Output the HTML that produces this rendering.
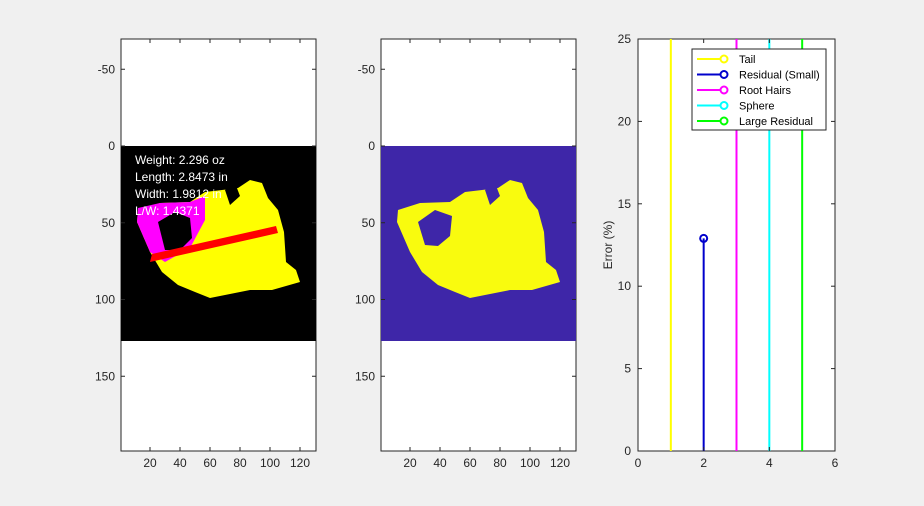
<!DOCTYPE html>
<html><head><meta charset="utf-8"><style>
body{margin:0;background:#f0f0f0;}
svg{display:block;font-family:"Liberation Sans",Arial,sans-serif;}
</style></head><body>
<svg id="fig" width="924" height="506">
<rect width="924" height="506" fill="#f0f0f0"/>
<!-- Axes 1 -->
<g>
<rect x="121" y="39" width="195" height="412" fill="#fff" stroke="#262626" stroke-width="1"/>
<rect x="121" y="146" width="195" height="195" fill="#000"/>
<g id="blob1"></g>
<polygon points="150,262 152,254 276,226 278,233" fill="#ff0000"/>
<g fill="#fff" font-size="12">
<text x="135" y="164">Weight: 2.296 oz</text>
<text x="135" y="181">Length: 2.8473 in</text>
<text x="135" y="198">Width: 1.9812 in</text>
<text x="135" y="215">L/W: 1.4371</text>
</g>
<g id="ticks1"></g>
</g>
<!-- Axes 2 -->
<g>
<rect x="381" y="39" width="195" height="412" fill="#fff" stroke="#262626" stroke-width="1"/>
<rect x="381" y="146" width="195" height="195" fill="#3e26a8"/>
<g id="blob2"></g>
<g id="ticks2"></g>
</g>
<!-- Axes 3 -->
<g>
<rect x="638" y="39" width="197" height="412" fill="#fff" stroke="#262626" stroke-width="1"/>
<g id="stems"></g>
<g id="ticks3"></g>
<text transform="translate(612,245) rotate(-90)" text-anchor="middle" font-size="12" fill="#262626">Error (%)</text>
<g>
<rect x="692" y="49" width="134" height="81" fill="#fff" stroke="#262626" stroke-width="1"/>
<g id="legend"></g>
</g>
</g>
</svg>
<script>
const NS='http://www.w3.org/2000/svg';
function mk(tag,attrs,parent){const e=document.createElementNS(NS,tag);for(const k in attrs)e.setAttribute(k,attrs[k]);parent.appendChild(e);return e;}
// image axes tick data
const imgXTicks=[20,40,60,80,100,120];
const imgYTicks=[-50,0,50,100,150];
// stem chart data
const categories=['Tail','Residual (Small)','Root Hairs','Sphere','Large Residual'];
const stemX=[1,2,3,4,5];
const stemY=[40,12.9,40,40,40];
const stemColors=['#ffff00','#0000cc','#ff00ff','#00ffff','#00ff00'];
const stemXTicks=[0,2,4,6];
const stemYTicks=[0,5,10,15,20,25];

function ix(v,off){return off+150+(v-20)*1.5;}
function iy(v){return 146+v*1.535;}
function imgTicks(g,off,left,right){
  imgXTicks.forEach(v=>{const x=ix(v,off-121);
    mk('line',{x1:x,x2:x,y1:451,y2:447,stroke:'#262626'},g);
    mk('line',{x1:x,x2:x,y1:39,y2:43,stroke:'#262626'},g);
    const t=mk('text',{x:x,y:467,'text-anchor':'middle','font-size':12,fill:'#262626'},g);t.textContent=v;
    
    });
  imgYTicks.forEach(v=>{const y=iy(v);
    mk('line',{x1:left,x2:left+4,y1:y,y2:y,stroke:'#262626'},g);
    mk('line',{x1:right,x2:right-4,y1:y,y2:y,stroke:'#262626'},g);
    const t=mk('text',{x:left-6,y:y+4,'text-anchor':'end','font-size':12,fill:'#262626'},g);t.textContent=v;
    
    });
}
imgTicks(document.getElementById('ticks1'),121,121,316);
imgTicks(document.getElementById('ticks2'),381,381,576);

const outline=[[150,252],[137,222],[138,210],[160,203],[190,202],[205,192],[222,190],[238,188],[250,180],[262,183],[268,198],[278,210],[284,232],[286,262],[296,270],[300,282],[286,286],[272,290],[250,290],[225,295],[210,298],[195,292],[178,285],[162,272]];
function pts(off){return outline.map(p=>(p[0]+off)+','+p[1]).join(' ');}
const b1=document.getElementById('blob1');
let p=mk('polygon',{points:pts(0),fill:'#ffff00'},b1);


p=mk('polygon',{points:'137,222 138,208 160,203 190,202 205,196 205,220 190,248 165,262 150,252',fill:'#ff00ff'},b1);


mk('polygon',{points:'158,222 175,212 190,218 192,238 180,250 165,250',fill:'#000'},b1);
mk('polygon',{points:'225,190 235,183 240,196 230,205',fill:'#000'},b1);
const b2=document.getElementById('blob2');
p=mk('polygon',{points:pts(260),fill:'#f9fb0e'},b2);


mk('polygon',{points:'418,222 435,210 452,216 450,236 438,246 425,245',fill:'#3e26a8'},b2);
mk('polygon',{points:'485,190 495,183 500,196 490,205',fill:'#3e26a8'},b2);

function sx(v){return 638+v*197/6;}
function sy(v){return 451-v*412/25;}
const st=document.getElementById('stems');
stemX.forEach((v,i)=>{const x=sx(v);
  const top=Math.max(sy(stemY[i]),39);
  const l=mk('line',{x1:x,x2:x,y1:sy(0),y2:top,stroke:stemColors[i],'stroke-width':2},st);
  
  
  if(stemY[i]<=25){const c=mk('circle',{cx:x,cy:sy(stemY[i]),r:3.5,fill:'none',stroke:stemColors[i],'stroke-width':2},st);
    
    }
});
const t3=document.getElementById('ticks3');
stemXTicks.forEach(v=>{const x=sx(v);
  mk('line',{x1:x,x2:x,y1:451,y2:447,stroke:'#262626'},t3);
  mk('line',{x1:x,x2:x,y1:39,y2:43,stroke:'#262626'},t3);
  const t=mk('text',{x:x,y:467,'text-anchor':'middle','font-size':12,fill:'#262626'},t3);t.textContent=v;
  
  });
stemYTicks.forEach(v=>{const y=sy(v);
  mk('line',{x1:638,x2:642,y1:y,y2:y,stroke:'#262626'},t3);
  mk('line',{x1:835,x2:831,y1:y,y2:y,stroke:'#262626'},t3);
  const t=mk('text',{x:631,y:y+4,'text-anchor':'end','font-size':12,fill:'#262626'},t3);t.textContent=v;
  
  });
const lg=document.getElementById('legend');
categories.forEach((c,i)=>{const y=59+i*15.5;
  mk('line',{x1:697,x2:724,y1:y,y2:y,stroke:stemColors[i],'stroke-width':2},lg);
  mk('circle',{cx:724,cy:y,r:3.5,fill:'#fff',stroke:stemColors[i],'stroke-width':2},lg);
  const t=mk('text',{x:739,y:y+4,'font-size':11,fill:'#000'},lg);t.textContent=c;
  
  });
</script>
</body></html>
